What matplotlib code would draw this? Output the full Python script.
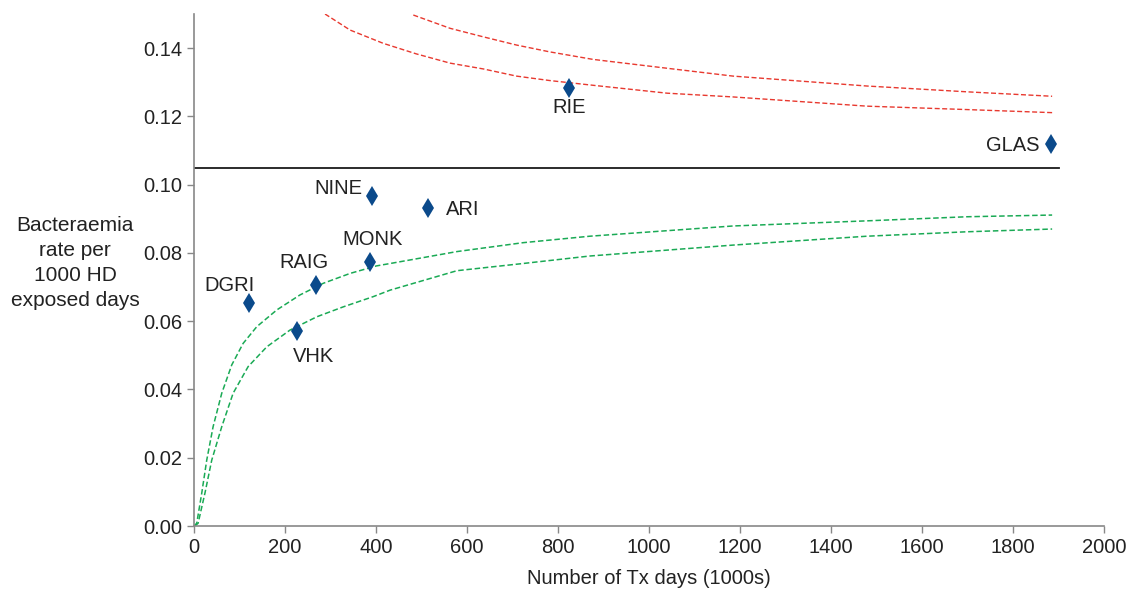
import matplotlib
matplotlib.use("Agg")
import matplotlib.pyplot as plt

plt.rcParams['font.family'] = ['Liberation Sans', 'DejaVu Sans']

# Units
units = ["DGRI", "VHK", "RAIG", "MONK", "NINE", "ARI", "RIE", "GLAS"]
tx_days = [121, 226, 268, 387, 391, 514, 824, 1884]
rates = [0.0653, 0.0571, 0.0706, 0.0773, 0.0967, 0.0931, 0.1283, 0.1119]

mean_rate = 0.105
mean_x = [0, 1900]

# Control limits
up95_x = [288, 343, 416, 489, 563, 636, 709, 782, 885, 1040, 1185, 1479, 1699, 1886]
up95_y = [0.150, 0.1453, 0.1414, 0.1383, 0.1356, 0.1339, 0.1318, 0.1305, 0.1290,
          0.1268, 0.1257, 0.1230, 0.1220, 0.1211]

up998_x = [482, 563, 636, 709, 782, 877, 1040, 1185, 1479, 1699, 1886]
up998_y = [0.1497, 0.1458, 0.1433, 0.1409, 0.1389, 0.1367, 0.1341, 0.1318, 0.1289,
           0.1272, 0.1259]

lo95_x = [0, 6, 17, 28, 42, 61, 83, 108, 138, 182, 233, 284, 343, 401, 431, 578, 723,
          870, 1185, 1479, 1699, 1886]
lo95_y = [0.0, 0.0008, 0.0096, 0.0193, 0.0291, 0.0389, 0.0472, 0.0535, 0.0584, 0.0633,
          0.0677, 0.0711, 0.0740, 0.0762, 0.0769, 0.0804, 0.0830, 0.0849, 0.0879, 0.0894,
          0.0906, 0.0911]

lo998_x = [2, 9, 24, 39, 61, 86, 119, 160, 211, 270, 328, 394, 431, 578, 723, 870, 1185,
           1479, 1699, 1886]
lo998_y = [0.0, 0.0008, 0.0096, 0.0193, 0.0291, 0.0389, 0.0467, 0.0525, 0.0574, 0.0613,
           0.0642, 0.0672, 0.0691, 0.0748, 0.0769, 0.0791, 0.0823, 0.0849, 0.0862, 0.0870]

xticks = [0, 200, 400, 600, 800, 1000, 1200, 1400, 1600, 1800, 2000]
yticks = [0.00, 0.02, 0.04, 0.06, 0.08, 0.10, 0.12, 0.14]

# label offsets in points (layout)
label_off = {"DGRI": (-14, 13), "VHK": (12, -18), "RAIG": (-9, 16), "MONK": (2, 16),
             "NINE": (-24, 5), "ARI": (25, -1), "RIE": (0, -14), "GLAS": (-28, -1)}

fig = plt.figure(figsize=(11.28, 5.93), dpi=100)
ax = fig.add_axes([194/1128, 1-526/593, 910/1128, 512/593])

red = '#e8392f'
green = '#1aaa55'
dash = (0, (3.6, 1.8))
ax.plot(up95_x, up95_y, color=red, lw=1.0, linestyle=dash)
ax.plot(up998_x, up998_y, color=red, lw=1.0, linestyle=dash)
ax.plot(lo95_x, lo95_y, color=green, lw=1.1, linestyle=dash)
ax.plot(lo998_x, lo998_y, color=green, lw=1.1, linestyle=dash)
ax.plot(mean_x, [mean_rate, mean_rate], color='#1a1a1a', lw=1.3)

ax.plot(tx_days, rates, linestyle='none', marker='d', color='#0b4a8b',
        markersize=10, markeredgewidth=0, zorder=5)
fs = 14.5
for u, x, y in zip(units, tx_days, rates):
    dx, dy = label_off[u]
    ax.annotate(u, (x, y), xytext=(dx, dy), textcoords='offset points',
                ha='center', va='center', fontsize=fs, color='#222222')

ax.set_xlim(0, 2000)
ax.set_ylim(0, 0.15)
ax.set_xticks(xticks)
ax.set_xticklabels([str(t) for t in xticks])
ax.set_yticks(yticks)
ax.set_yticklabels([f"{t:.2f}" for t in yticks])
for s in ['top', 'right']:
    ax.spines[s].set_visible(False)
for s in ['left', 'bottom']:
    ax.spines[s].set_color('#888888')
    ax.spines[s].set_linewidth(1.2)
ax.tick_params(axis='both', colors='#888888', labelcolor='#222222', labelsize=fs,
               length=5, width=1.0)
ax.set_xlabel("Number of Tx days (1000s)", fontsize=fs, color='#222222', labelpad=9)
fig.text(75/1128, 1-263/593, "Bacteraemia\nrate per\n1000 HD\nexposed days",
         ha='center', va='center', fontsize=15, color='#222222', linespacing=1.38)

fig.savefig("out.png", dpi=100)
